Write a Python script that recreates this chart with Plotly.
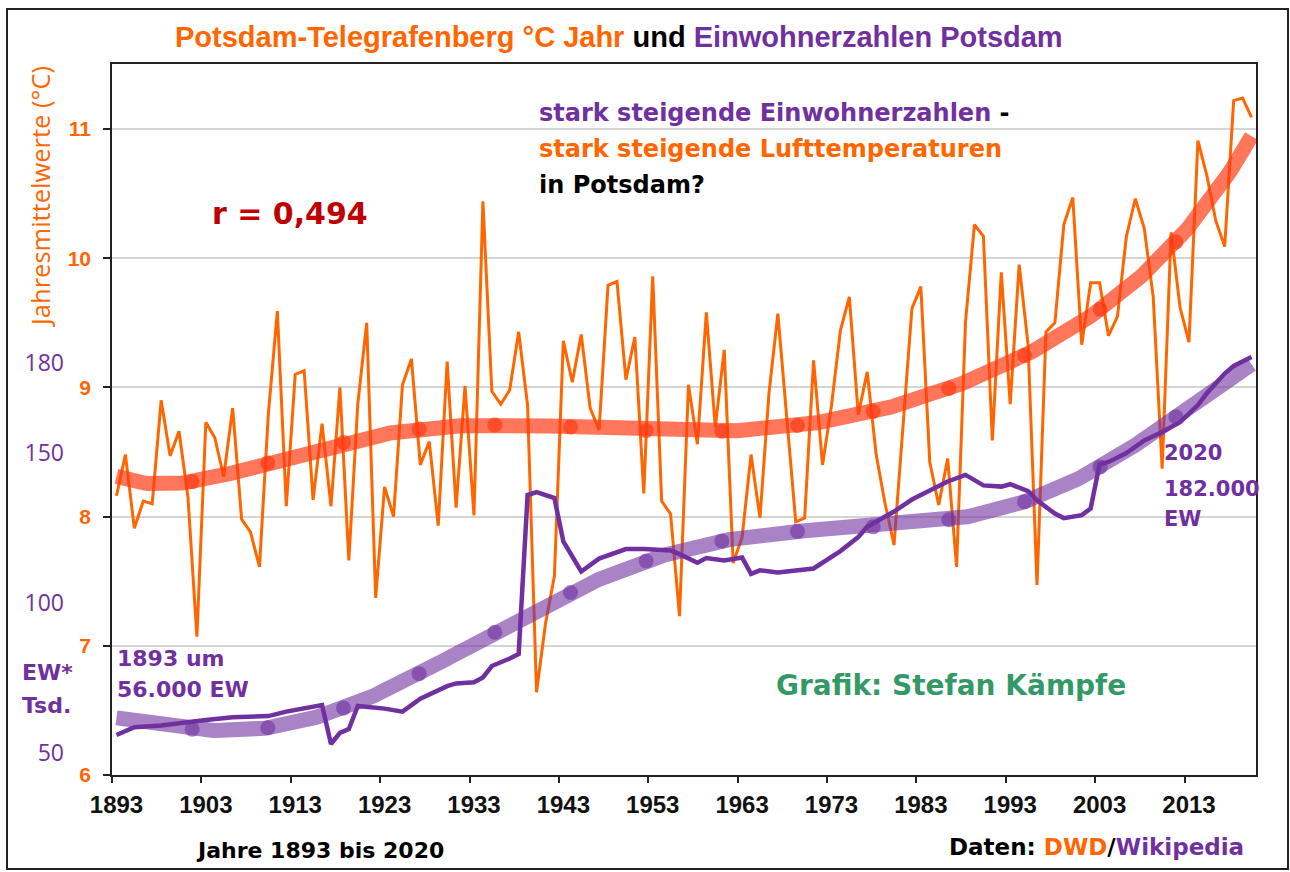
import numpy as np
import plotly.graph_objects as go

# ---------------- data ----------------
years = list(range(1893, 2021))
temp = [8.16, 8.48, 7.91, 8.12, 8.10, 8.90, 8.47, 8.66, 8.15, 7.07,
        8.73, 8.61, 8.31, 8.84, 7.98, 7.88, 7.61, 8.80, 9.59, 8.08,
        9.10, 9.13, 8.13, 8.72, 8.08, 9.00, 7.66, 8.87, 9.50, 7.37,
        8.23, 8.00, 9.02, 9.22, 8.40, 8.58, 7.93, 9.20, 8.07, 9.01,
        8.01, 10.44, 8.97, 8.87, 8.98, 9.43, 8.86, 6.64, 7.17, 7.54,
        9.36, 9.04, 9.41, 8.84, 8.67, 9.79, 9.82, 9.06, 9.39, 8.18,
        9.86, 8.12, 8.02, 7.23, 9.02, 8.56, 9.58, 8.69, 9.29, 7.64,
        7.84, 8.48, 7.99, 8.95, 9.57, 8.79, 7.96, 7.99, 9.21, 8.40,
        8.86, 9.44, 9.70, 8.79, 9.12, 8.48, 8.10, 7.78, 8.70, 9.61,
        9.78, 8.42, 8.09, 8.45, 7.61, 9.51, 10.26, 10.17, 8.59, 9.89,
        8.87, 9.95, 9.33, 7.47, 9.43, 9.50, 10.26, 10.47, 9.33, 9.81,
        9.81, 9.40, 9.55, 10.17, 10.46, 10.23, 9.70, 8.37, 10.20, 9.62,
        9.35, 10.91, 10.64, 10.29, 10.09, 11.22, 11.24, 11.09]

pop_years = [1893, 1895, 1898, 1900, 1903, 1906, 1910, 1912, 1915, 1916,
             1917, 1918, 1919, 1920, 1923, 1925, 1927, 1930, 1931, 1933,
             1934, 1935, 1937, 1938, 1939, 1940, 1942, 1943, 1945, 1947,
             1950, 1952, 1955, 1956, 1958, 1959, 1961, 1963, 1964, 1965,
             1967, 1969, 1971, 1974, 1976, 1977, 1980, 1982, 1984, 1986,
             1988, 1990, 1992, 1993, 1995, 1996, 1998, 1999, 2001, 2002,
             2003, 2004, 2006, 2008, 2010, 2012, 2014, 2015, 2017, 2018,
             2020]
pop = [56.0, 58.6, 59.2, 60.0, 61.0, 61.9, 62.3, 63.8, 65.5, 66.0,
       53.0, 56.7, 58.0, 65.7, 64.8, 63.8, 68.1, 72.3, 73.2, 73.6,
       75.2, 79.0, 81.5, 83.0, 136.0, 137.0, 135.0, 120.5, 110.5, 114.8,
       118.0, 118.0, 117.5, 116.3, 113.4, 115.0, 114.2, 115.2, 109.7, 110.9,
       110.2, 110.7, 111.5, 117.3, 122.0, 125.4, 130.5, 134.5, 137.5, 140.5,
       142.7, 139.2, 138.8, 139.6, 137.3, 134.2, 129.8, 128.3, 129.3, 131.5,
       146.2, 147.0, 150.0, 154.2, 157.0, 160.3, 166.0, 169.9, 176.5, 179.0,
       182.0]

tick_years = list(range(1893, 2021, 10))
temp_ticks = [6, 7, 8, 9, 10, 11]
pop_ticks = [50, 100, 150, 180]

ORANGE = "#FF6600"
PURPLE = "#7030A0"
GREEN = "#339966"
DARKRED = "#C00000"

# ---------------- trend lines (polynomial, order 6) ----------------
yr = np.array(years, dtype=float)
c0, s0 = 1956.5, 63.5
t_coef = np.polyfit((yr - c0) / s0, np.array(temp), 6)
pop_yearly = np.interp(yr, pop_years, pop)
p_coef = np.polyfit((yr - c0) / s0, pop_yearly, 6)

xs = np.linspace(years[0], years[-1], 400)
xd = np.linspace(years[0], years[-1], 16)[1:-1]
t_trend = np.polyval(t_coef, (xs - c0) / s0)
t_dots = np.polyval(t_coef, (xd - c0) / s0)
p_trend = np.polyval(p_coef, (xs - c0) / s0)
p_dots = np.polyval(p_coef, (xd - c0) / s0)

T_TR = "rgba(255,60,20,0.7)"
P_TR = "rgba(112,48,160,0.6)"

fig = go.Figure()
fig.add_trace(go.Scatter(x=years, y=temp, mode="lines",
                         line=dict(color=ORANGE, width=3), hoverinfo="skip",
                         showlegend=False))
fig.add_trace(go.Scatter(x=xs, y=t_trend, mode="lines",
                         line=dict(color=T_TR, width=15), showlegend=False))
fig.add_trace(go.Scatter(x=xd, y=t_dots, mode="markers",
                         marker=dict(color=T_TR, size=15, line=dict(width=0)),
                         showlegend=False))
fig.add_trace(go.Scatter(x=pop_years, y=pop, mode="lines", xaxis="x2", yaxis="y2",
                         line=dict(color=PURPLE, width=4.5), showlegend=False))
fig.add_trace(go.Scatter(x=xs, y=p_trend, mode="lines", xaxis="x2", yaxis="y2",
                         line=dict(color=P_TR, width=15), showlegend=False))
fig.add_trace(go.Scatter(x=xd, y=p_dots, mode="markers", xaxis="x2", yaxis="y2",
                         marker=dict(color=P_TR, size=15, line=dict(width=0)),
                         showlegend=False))
# invisible anchor trace so the temperature label axis (y3) is drawn
fig.add_trace(go.Scatter(x=[years[0]], y=[temp_ticks[0]], yaxis="y3", mode="markers",
                         marker=dict(opacity=0, size=1), hoverinfo="skip",
                         showlegend=False))

# ---------------- layout helpers ----------------
ML, MR, MT, MB = 10, 34, 64, 97
W, H = 1290, 872
PW = W - ML - MR
PH = H - MT - MB


def X(px):
    return (px - ML) / PW


def Y(py):
    return (H - MB - py) / PH


xdom = [X(112), 1.0]
xr = [years[0] - 0.5, years[-1] + 0.5]
yr_t = [6, 11.503]

DV = "DejaVu Sans"
LS = "Liberation Sans"

fig.update_layout(
    template="none",
    width=W, height=H,
    margin=dict(l=ML, r=MR, t=MT, b=MB, autoexpand=False),
    paper_bgcolor="white", plot_bgcolor="white",
    showlegend=False,
    xaxis=dict(domain=xdom, range=xr, tickmode="array", tickvals=tick_years,
               ticks="", showgrid=False, zeroline=False, automargin=False,
               showline=True, linecolor="#222222", linewidth=2, mirror=True,
               tickfont=dict(family=LS, size=24, color="#111111", weight="bold"),
               ticklabelstandoff=7),
    xaxis2=dict(domain=xdom, range=xr, overlaying="x", anchor="y", side="bottom",
                tickmode="array", tickvals=[v - 0.5 for v in tick_years],
                ticks="outside", ticklen=7, tickwidth=2, tickcolor="#222222",
                automargin=False,
                showticklabels=False, showgrid=False, zeroline=False, showline=False),
    yaxis=dict(range=yr_t, tickmode="array", tickvals=temp_ticks,
               ticks="outside", ticklen=7, tickwidth=2, tickcolor="#222222",
               showticklabels=False,
               showline=True, linecolor="#222222", linewidth=2, mirror=True,
               showgrid=True, gridcolor="#D4D4D4", gridwidth=1.5, zeroline=False,
               automargin=False),
    yaxis3=dict(overlaying="y", anchor="free", position=X(91), side="left",
                range=yr_t, tickmode="array", tickvals=temp_ticks,
                ticks="", showline=False, showgrid=False, zeroline=False,
                automargin=False,
                tickfont=dict(family=LS, size=21, color=ORANGE, weight="bold")),
    yaxis2=dict(overlaying="y", anchor="free", position=X(64), side="left",
                range=[42.67, 279.67], tickmode="array", tickvals=pop_ticks,
                ticks="", showline=False, showgrid=False, zeroline=False,
                automargin=False,
                tickfont=dict(family="Open Sans", size=23, color=PURPLE)),
)

ann = []


def txt(text, x, y, size, color="#000000", family=DV, xanchor="left", angle=0):
    ann.append(dict(text=text, x=X(x), y=Y(y), xref="paper", yref="paper",
                    xanchor=xanchor, yanchor="middle", showarrow=False,
                    textangle=angle,
                    font=dict(family=family, size=size, color=color)))


txt("<b><span style='color:%s'>Potsdam-Telegrafenberg °C Jahr</span> und "
    "<span style='color:%s'>Einwohnerzahlen Potsdam</span></b>" % (ORANGE, PURPLE),
    619, 37, 29, "#000000", LS, "center")
txt("Jahresmittelwerte (°C)", 40, 197, 25.5, ORANGE, "Open Sans", "center", -90)
txt("<b><span style='color:%s'>stark steigende Einwohnerzahlen</span> -</b>" % PURPLE,
    537, 113, 24)
txt("<b>stark steigende Lufttemperaturen</b>", 537, 149, 24, ORANGE)
txt("<b>in Potsdam?</b>", 537, 185, 24)
txt("<b>r = 0,494</b>", 210, 213, 30, DARKRED)
txt("<b>1893 um</b>", 115, 658, 22, PURPLE)
txt("<b>56.000 EW</b>", 115, 689, 22, PURPLE)
txt("<b>EW*</b>", 20, 672, 22, PURPLE)
txt("<b>Tsd.</b>", 20, 705, 22, PURPLE)
txt("<b>2020</b>", 1162, 453, 21, PURPLE)
txt("<b>182.000</b>", 1162, 489, 21, PURPLE)
txt("<b>EW</b>", 1162, 519, 21, PURPLE)
txt("<b>Grafik: Stefan Kämpfe</b>", 774, 685, 28, GREEN)
txt("<b>Jahre 1893 bis 2020</b>", 194, 850, 22)
txt("<b>Daten: <span style='color:%s'>DWD</span>/<span style='color:%s'>Wikipedia</span></b>"
    % (ORANGE, PURPLE), 947, 847, 23)

fig.update_layout(annotations=ann)

fig.add_shape(type="rect", xref="paper", yref="paper",
              x0=X(7), x1=X(1288), y0=Y(869), y1=Y(9),
              line=dict(color="#222222", width=2), fillcolor="rgba(0,0,0,0)",
              layer="above")

fig.write_html("out.html",
               config={"displayModeBar": False},
               post_script="document.body.style.margin='0';"
                           "document.body.style.overflow='hidden';")
